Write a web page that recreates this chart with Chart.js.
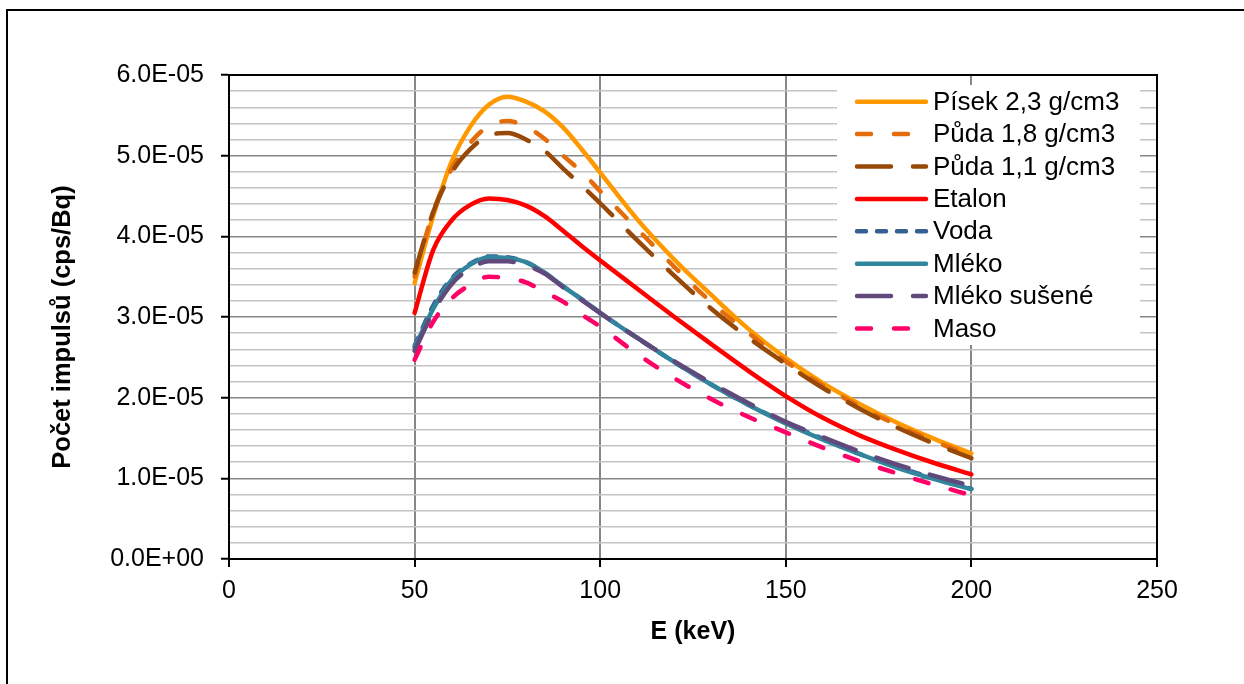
<!DOCTYPE html>
<html>
<head>
<meta charset="utf-8">
<title>Počet impulsů</title>
<script src="https://cdn.jsdelivr.net/npm/chart.js@4.4.1/dist/chart.umd.min.js"></script>
<style>
    html, body { margin: 0; padding: 0; background: #fff; }
    #wrap { position: relative; width: 1244px; height: 684px; overflow: hidden; }
    #frame { position: absolute; left: 6px; top: 9px; right: -10px; bottom: -10px;
             border-left: 2px solid #000; border-top: 2px solid #000; }
    #c { position: absolute; left: 0; top: 0; }
</style>
</head>
<body>
<div id="wrap">
    <div id="frame"></div>
    <canvas id="c" width="1244" height="684"></canvas>
</div>
<script>
(function() {
    'use strict';

    // Energies (keV)
    var energy = [50, 55, 60, 65, 70, 75, 80, 85, 90, 95, 100, 110, 120, 130, 140, 150, 160, 170, 180, 190, 200];

    // Series values, in units of 1E-05 cps/Bq
    var pisek23   = [3.42, 4.25, 4.93, 5.36, 5.63, 5.73, 5.67, 5.55, 5.35, 5.08, 4.79, 4.21, 3.71, 3.27, 2.85, 2.49, 2.18, 1.92, 1.69, 1.49, 1.31];
    var puda18    = [3.50, 4.30, 4.84, 5.16, 5.37, 5.43, 5.36, 5.21, 5.00, 4.80, 4.56, 4.09, 3.62, 3.18, 2.80, 2.45, 2.15, 1.89, 1.66, 1.46, 1.28];
    var puda11    = [3.55, 4.30, 4.79, 5.08, 5.25, 5.28, 5.20, 5.06, 4.84, 4.63, 4.41, 3.95, 3.51, 3.10, 2.74, 2.42, 2.12, 1.86, 1.63, 1.43, 1.25];
    var etalon    = [3.05, 3.83, 4.20, 4.39, 4.47, 4.45, 4.38, 4.25, 4.07, 3.88, 3.70, 3.35, 3.00, 2.66, 2.33, 2.02, 1.75, 1.53, 1.35, 1.19, 1.05];
    var voda      = [2.64, 3.14, 3.48, 3.66, 3.75, 3.74, 3.68, 3.55, 3.38, 3.22, 3.05, 2.74, 2.44, 2.16, 1.91, 1.69, 1.49, 1.30, 1.14, 1.00, 0.87];
    var mleko     = [2.62, 3.10, 3.46, 3.65, 3.74, 3.73, 3.68, 3.55, 3.38, 3.22, 3.05, 2.74, 2.44, 2.16, 1.91, 1.68, 1.48, 1.30, 1.13, 0.99, 0.865];
    var mlekoSus  = [2.58, 3.06, 3.41, 3.60, 3.69, 3.69, 3.64, 3.54, 3.37, 3.21, 3.05, 2.74, 2.45, 2.18, 1.93, 1.70, 1.51, 1.33, 1.17, 1.03, 0.905];
    var maso      = [2.47, 2.94, 3.23, 3.40, 3.50, 3.48, 3.43, 3.31, 3.19, 3.03, 2.88, 2.54, 2.24, 1.98, 1.76, 1.57, 1.38, 1.21, 1.06, 0.92, 0.79];

    // Tick labels
    var yTickLabels = ['0.0E+00', '1.0E-05', '2.0E-05', '3.0E-05', '4.0E-05', '5.0E-05', '6.0E-05'];
    var xTickLabels = ['0', '50', '100', '150', '200', '250'];

    var FONT = '"Liberation Sans", Arial, sans-serif';
    var Y_TITLE = 'Počet impulsů (cps/Bq)';

    // Series definitions
    var series = [
        { label: 'Písek 2,3 g/cm3',  data: pisek23,  color: '#ff9900', dash: [] },
        { label: 'Půda 1,8 g/cm3',   data: puda18,   color: '#e46c0a', dash: [14, 23] },
        { label: 'Půda 1,1 g/cm3',   data: puda11,   color: '#984807', dash: [34, 22] },
        { label: 'Etalon',           data: etalon,   color: '#ff0000', dash: [] },
        { label: 'Voda',             data: voda,     color: '#376092', dash: [9, 11] },
        { label: 'Mléko',            data: mleko,    color: '#31859c', dash: [] },
        { label: 'Mléko sušené',     data: mlekoSus, color: '#604a7b', dash: [34, 22] },
        { label: 'Maso',             data: maso,     color: '#ff0066', dash: [14, 23] }
    ];

    function buildPoints(values) {
        return values.map(function(v, i) {
            return { x: energy[i], y: v * 1e-5 };
        });
    }

    var datasets = series.map(function(s, i) {
        return {
            label: s.label,
            data: buildPoints(s.data),
            borderColor: s.color,
            backgroundColor: s.color,
            borderWidth: 4.5,
            borderDash: s.dash,
            borderCapStyle: 'round',
            borderJoinStyle: 'round',
            pointRadius: 0,
            fill: false,
            cubicInterpolationMode: 'monotone',
            // later series are drawn on top, like the original
            order: series.length - i
        };
    });

    // Step of the y grid is 2E-06, so which ticks are major
    function microOf(value) {
        return Math.round(value * 1e6);
    }

    function isMajor(value) {
        return microOf(value) % 10 === 0;
    }

    // Plot frame plugin
    var framePlugin = {
        id: 'plotFrame',
        beforeDatasetsDraw: function(chart) {
            var a = chart.chartArea;
            var ctx = chart.ctx;
            ctx.save();
            ctx.strokeStyle = '#000';
            ctx.lineWidth = 2;
            ctx.strokeRect(a.left, a.top, a.right - a.left, a.bottom - a.top);
            ctx.restore();
        }
    };

    // Y axis title, drawn a bit below the middle like in the original
    var yTitlePlugin = {
        id: 'yTitle',
        afterDraw: function(chart) {
            var ctx = chart.ctx;
            ctx.save();
            ctx.translate(63, 327);
            ctx.rotate(-Math.PI / 2);
            ctx.fillStyle = '#000';
            ctx.font = 'bold 25.5px ' + FONT;
            ctx.textAlign = 'center';
            ctx.textBaseline = 'middle';
            ctx.fillText(Y_TITLE, 0, 0);
            ctx.restore();
        }
    };

    // Legend inside the plot area
    var legendPlugin = {
        id: 'innerLegend',
        afterDatasetsDraw: function(chart) {
            var ctx = chart.ctx;
            var left = 837, top = 85, width = 303, height = 260;
            var rowTop = 101.7, rowStep = 32.4;

            ctx.save();
            ctx.fillStyle = '#fff';
            ctx.fillRect(left, top, width, height);

            chart.data.datasets.forEach(function(ds, i) {
                var y = rowTop + i * rowStep;
                ctx.beginPath();
                ctx.setLineDash(ds.borderDash);
                ctx.lineCap = 'round';
                ctx.strokeStyle = ds.borderColor;
                ctx.lineWidth = ds.borderWidth;
                ctx.moveTo(857, y);
                ctx.lineTo(926, y);
                ctx.stroke();

                ctx.setLineDash([]);
                ctx.fillStyle = '#000';
                ctx.font = '26px ' + FONT;
                ctx.textAlign = 'left';
                ctx.textBaseline = 'middle';
                ctx.fillText(ds.label, 933, y + 1);
            });
            ctx.restore();
        }
    };

    var chart = new Chart(document.getElementById('c'), {
        type: 'line',
        data: { datasets: datasets },
        plugins: [framePlugin, legendPlugin, yTitlePlugin],
        options: {
            responsive: false,
            animation: false,
            devicePixelRatio: 1,
            layout: { padding: { top: 75, right: 87, left: 0, bottom: 0 } },
            plugins: {
                legend: { display: false },
                tooltip: { enabled: false }
            },
            scales: {
                x: {
                    type: 'linear',
                    min: 0,
                    max: 250,
                    afterFit: function(scale) { scale.height = 125; },
                    ticks: {
                        stepSize: 50,
                        padding: 9,
                        color: '#000',
                        font: { family: FONT, size: 25 },
                        callback: function(value) {
                            return xTickLabels[Math.round(value / 50)];
                        }
                    },
                    grid: {
                        color: function(ctx) {
                            var v = ctx.tick ? ctx.tick.value : 0;
                            return (v === 0 || v === 250) ? '#000' : '#878787';
                        },
                        lineWidth: 2,
                        tickLength: 8,
                        tickColor: '#000',
                        tickWidth: 2
                    },
                    border: { color: '#000', width: 2 },
                    title: {
                        display: true,
                        text: 'E (keV)',
                        color: '#000',
                        font: { family: FONT, size: 25, weight: 'bold' },
                        padding: { top: 0, bottom: 37 }
                    }
                },
                y: {
                    type: 'linear',
                    min: 0,
                    max: 6e-5,
                    afterFit: function(scale) { scale.width = 229; },
                    ticks: {
                        stepSize: 2e-6,
                        maxTicksLimit: 40,
                        autoSkip: false,
                        padding: 17,
                        color: '#000',
                        font: { family: FONT, size: 25 },
                        callback: function(value) {
                            if (!isMajor(value)) {
                                return '';
                            }
                            return yTickLabels[microOf(value) / 10];
                        }
                    },
                    grid: {
                        color: function(ctx) {
                            var v = ctx.tick ? ctx.tick.value : 0;
                            return isMajor(v) ? '#878787' : '#c4c4c4';
                        },
                        lineWidth: 1.5,
                        tickLength: 8,
                        tickColor: function(ctx) {
                            var v = ctx.tick ? ctx.tick.value : 0;
                            return isMajor(v) ? '#000' : 'rgba(0,0,0,0)';
                        },
                        tickWidth: 2
                    },
                    border: { color: '#000', width: 2 }
                }
            }
        }
    });
})();
</script>
</body>
</html>
